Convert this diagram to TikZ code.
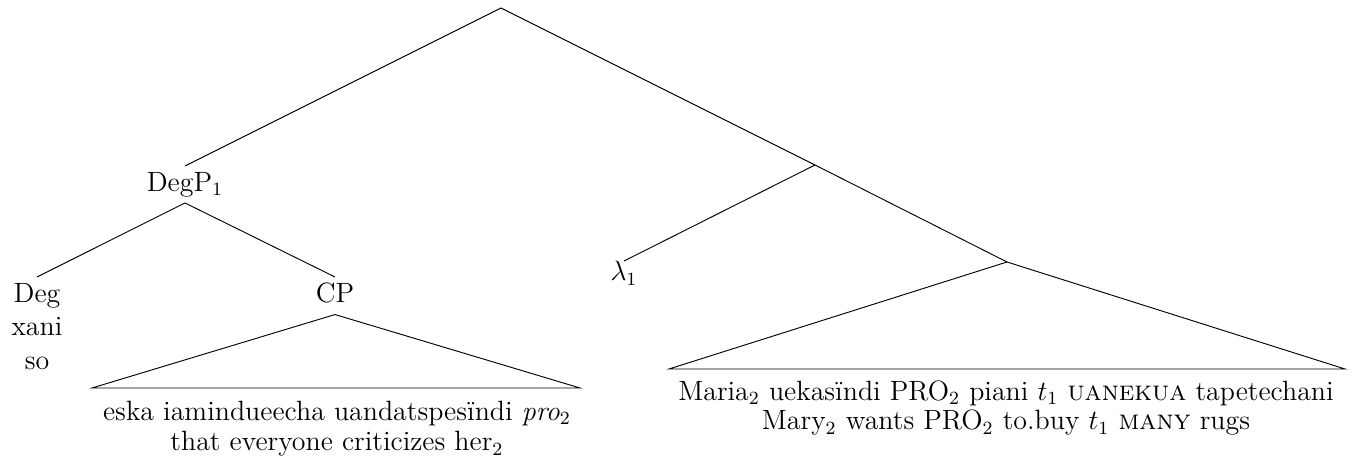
\documentclass[tikz,border=0pt]{standalone}
\begin{document}
\begin{tikzpicture}[x=0.43pt,y=-0.43pt,
  every node/.style={font=\fontsize{12}{12.25}\selectfont},
  lab/.style={inner sep=2.5pt, text depth=2.3pt},
  branch/.style={draw=black, line width=0.4pt},
  roof/.style={draw=black, line width=0.4pt, line join=miter},
  yield/.style={align=center, inner sep=0pt}]
\useasboundingbox (0,0) rectangle (1359,462);
% branching points
\coordinate (root) at (501,8);
\coordinate (vp) at (815,165);
\coordinate (vbar) at (1007,262);
% labels
\node[lab,anchor=north] (degp) at (185,166) {DegP$_1$};
\node[lab,anchor=north,align=center] (deg) at (37,277) {Deg\\[2.1pt]xani\\[2.1pt]so};
\node[lab,anchor=north] (cp) at (335,277) {CP};
\node[inner sep=0pt,anchor=north] (lam) at (624,261) {$\lambda_1$};
% roofs
\coordinate (cpl) at (92,388);
\coordinate (cpr) at (580,388);
\coordinate (vl) at (669,369);
\coordinate (vr) at (1345,369);
\node[yield,anchor=base] (cptext) at (337,451)
  {eska iamindueecha uandatspesïndi \textit{pro}$_2$\\[0.8pt]that everyone criticizes her$_2$};
\node[yield,anchor=base] (vtext) at (1006,430)
  {Maria$_2$ uekasïndi PRO$_2$ piani $t_1$ \textsc{uanekua} tapetechani\\[0.5pt]Mary$_2$ wants PRO$_2$ to.buy $t_1$ \textsc{many} rugs};
% branches
\draw[branch] (root) -- (degp.north);
\draw[branch] (root) -- (vp);
\draw[branch] (vp) -- (lam.north);
\draw[branch] (vp) -- (vbar);
\draw[branch] (degp.south) -- (deg.north);
\draw[branch] (degp.south) -- (cp.north);
\draw[roof] (cp.south) -- (cpl) -- (cpr) -- cycle;
\draw[roof] (vbar) -- (vl) -- (vr) -- cycle;
\end{tikzpicture}
\end{document}
